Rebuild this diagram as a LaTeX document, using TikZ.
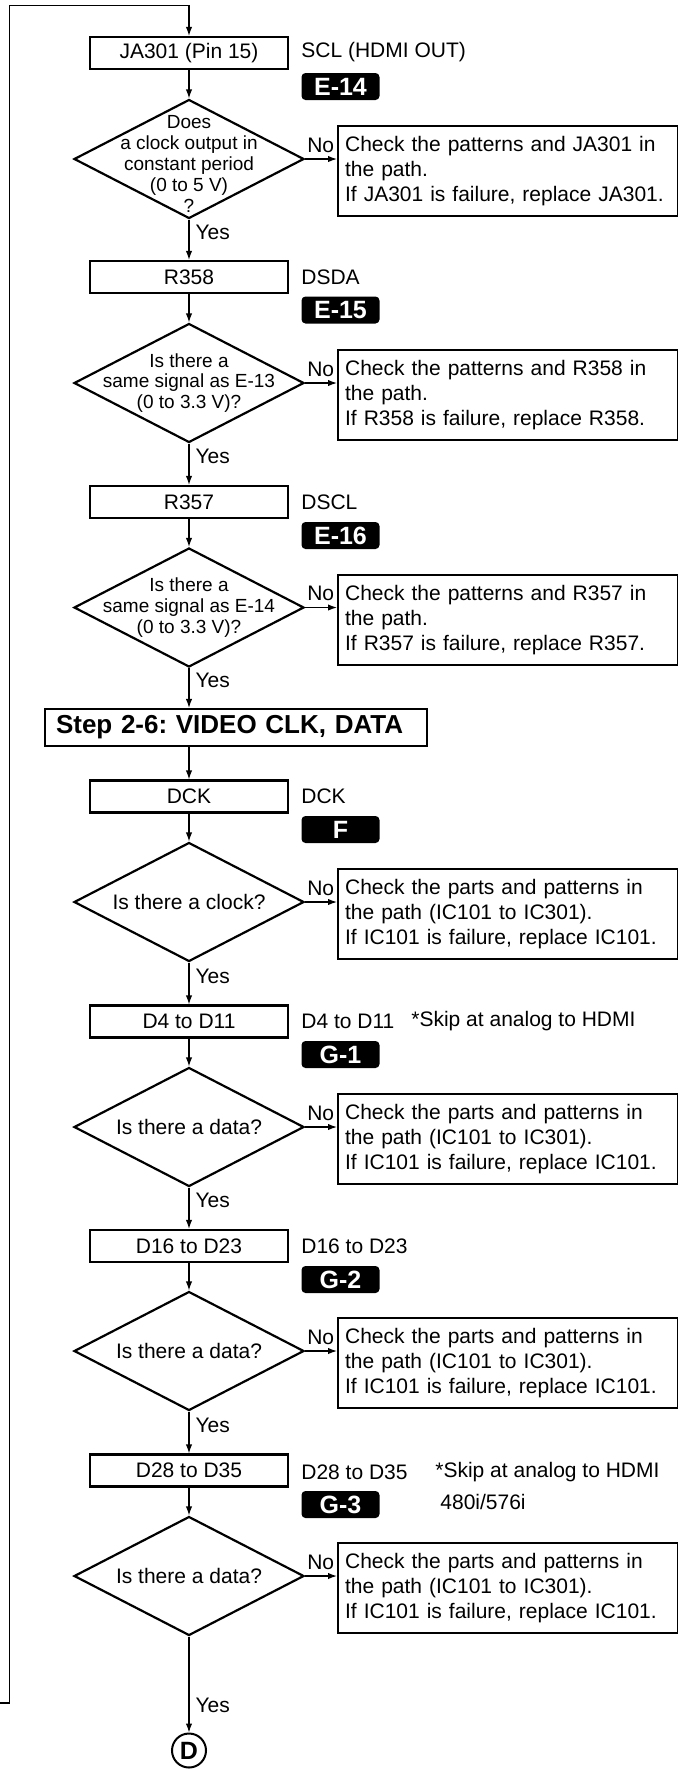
\documentclass[tikz,border=0pt]{standalone}
\usepackage{fontspec}
\setmainfont{Liberation Sans}
\usetikzlibrary{shapes.geometric, arrows.meta}

\begin{document}
\begin{tikzpicture}[>={Latex[length=4.5pt,width=3.2pt]}, x=0.5pt, y=-0.5pt,
    font=\fontsize{10.5}{12.5}\selectfont,
    line/.style={line width=0.6pt},
    box/.style={draw, line width=1.1pt, minimum width=98.75pt, minimum height=16pt, inner sep=0pt},
    dia/.style={draw, diamond, line width=1.1pt, minimum width=115pt, minimum height=59.5pt, inner sep=0pt},
    chk/.style={draw, line width=1.1pt, anchor=north west, text width=163pt, minimum height=45pt, align=left, inner xsep=3.5pt},
    stepbox/.style={draw, line width=1.1pt, minimum height=17.5pt, text width=180pt, inner xsep=5.5pt, align=left, font=\bfseries\fontsize{13}{13}\selectfont},
    badge/.style={fill=black, text=white, rounded corners=2pt, minimum width=39pt, minimum height=13.5pt, inner sep=0pt, font=\bfseries\fontsize{12.5}{12.5}\selectfont},
    lbl/.style={anchor=west, inner sep=0pt},
    small/.style={align=center, font=\fontsize{9.5}{10.4}\selectfont},
    nolbl/.style={anchor=south west, inner sep=0pt, xshift=0.8pt, yshift=3pt},
    yes/.style={pos=0.32, right, inner sep=3pt}
]
    \useasboundingbox (0,0) rectangle (678,1769);

    % Rueckfuehrung von unten
    \coordinate (loopin) at (0,1703);
    \coordinate (looptop) at (9.5,5.7);

    % 1. JA301
    \node[box] (ja) at (189,53) {JA301 (Pin 15)};
    \node[lbl] (ja-l) at (301,52) {SCL (HDMI OUT)};
    \node[badge] (e14) at (340.5,86.5) {E-14};
    \node[dia, label={[small, yshift=-2.5pt]center:Does\\a clock output in\\constant period\\(0 to 5 V)\\?}] (q1) at (189,159) {};
    \node[chk] (c1) at (337,125) {Check the patterns and JA301 in\\the path.\\If JA301 is failure, replace JA301.};

    % 2. R358
    \node[box] (r358) at (189,277) {R358};
    \node[lbl] (r358-l) at (301,277) {DSDA};
    \node[badge] (e15) at (340.5,310) {E-15};
    \node[dia, label={[small]center:Is there a\\same signal as E-13\\(0 to 3.3 V)?}] (q2) at (189,383) {};
    \node[chk] (c2) at (337,349) {Check the patterns and R358 in\\the path.\\If R358 is failure, replace R358.};

    % 3. R357
    \node[box] (r357) at (189,502) {R357};
    \node[lbl] (r357-l) at (301,502) {DSCL};
    \node[badge] (e16) at (340.5,535.5) {E-16};
    \node[dia, label={[small]center:Is there a\\same signal as E-14\\(0 to 3.3 V)?}] (q3) at (189,607.5) {};
    \node[chk] (c3) at (337,573.5) {Check the patterns and R357 in\\the path.\\If R357 is failure, replace R357.};

    % Step 2-6
    \node[stepbox] (st) at (236,727.5) {Step 2-6:\ VIDEO CLK, DATA};

    % 4. Takt und Daten
    \node[box] (dck) at (189,796.5) {DCK};
    \node[lbl] (dck-l) at (301,796.5) {DCK};
    \node[badge] (f) at (340.5,829.5) {F};

    \node[box] (d411) at (189,1021.5) {D4 to D11};
    \node[lbl] (d411-l) at (301,1021.5) {D4 to D11};
    \node[lbl] (d411-s) at (411,1021.5) {*Skip at analog to HDMI};
    \node[badge] (g1) at (340.5,1054.5) {G-1};

    \node[box] (d1623) at (189,1246) {D16 to D23};
    \node[lbl] (d1623-l) at (301,1246) {D16 to D23};
    \node[badge] (g2) at (340.5,1279.5) {G-2};

    \node[box] (d2835) at (189,1470.5) {D28 to D35};
    \node[lbl] (d2835-l) at (301,1472) {D28 to D35};
    \node[lbl] (d2835-s) at (435,1472) {*Skip at analog to HDMI};
    \node[lbl] (d2835-t) at (440,1502) {480i/576i};
    \node[badge] (g3) at (340.5,1504.5) {G-3};

    \foreach \n/\y/\q in {4/902/clock, 5/1127/data, 6/1351/data, 7/1576/data} {
        \node[dia, label={center:Is there a \q?}] (q\n) at (189,\y) {};
        \node[chk] (c\n) at (337,\y-34) {Check the parts and patterns in\\the path (IC101 to IC301).\\If IC101 is failure, replace IC101.};
    }

    \node[circle, draw, line width=1pt, minimum size=17pt, inner sep=0pt, font=\bfseries\fontsize{12.5}{12.5}\selectfont] (conD) at (189,1750.5) {D};

    % Verbindungen
    \draw[line, ->] (loopin) -| (looptop) -| (ja);
    \draw[line, ->] (ja) -- (q1);
    \draw[line, ->] (q1) -- (r358) node[yes] {Yes};
    \draw[line, ->] (r358) -- (q2);
    \draw[line, ->] (q2) -- (r357) node[yes] {Yes};
    \draw[line, ->] (r357) -- (q3);
    \draw[line, ->] (q3) -- (q3.south |- st.north) node[yes] {Yes};
    \draw[line, ->] (st.south -| dck.north) -- (dck);
    \draw[line, ->] (dck) -- (q4);
    \draw[line, ->] (q4) -- (d411) node[yes] {Yes};
    \draw[line, ->] (d411) -- (q5);
    \draw[line, ->] (q5) -- (d1623) node[yes] {Yes};
    \draw[line, ->] (d1623) -- (q6);
    \draw[line, ->] (q6) -- (d2835) node[yes] {Yes};
    \draw[line, ->] (d2835) -- (q7);
    \draw[line, ->] (q7) -- (conD) node[yes, pos=0.72] {Yes};

    % Nein-Zweige
    \foreach \n in {1,...,7} {
        \draw[line, ->] (q\n.east) node[nolbl] {No} -- (q\n.east -| c\n.west);
    }

\end{tikzpicture}
\end{document}
